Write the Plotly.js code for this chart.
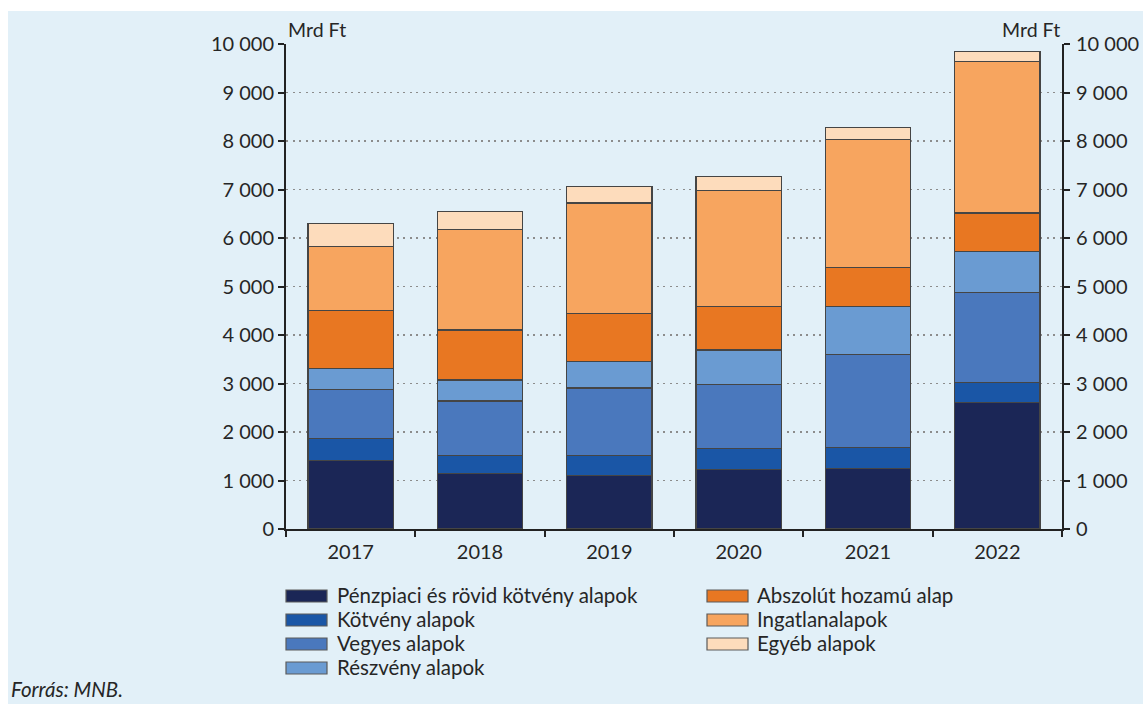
<!DOCTYPE html>
<html>
<head>
<meta charset="utf-8">
<script src="https://cdn.plot.ly/plotly-3.0.1.min.js"></script>
<style>
  html, body { margin: 0; padding: 0; background: #ffffff; width: 1143px; height: 704px; overflow: hidden; }
  #chart { position: absolute; left: 8px; top: 11px; width: 1135px; height: 693px; }
</style>
</head>
<body>
<div id="chart"></div>
<script>
const years = ["2017", "2018", "2019", "2020", "2021", "2022"];

const seriesNames = [
  "Pénzpiaci és rövid kötvény alapok",
  "Kötvény alapok",
  "Vegyes alapok",
  "Részvény alapok",
  "Abszolút hozamú alap",
  "Ingatlanalapok",
  "Egyéb alapok"
];

// Mrd Ft
const penzpiaci = [1420, 1145, 1111, 1221, 1255, 2607];
const kotveny   = [446, 378, 412, 439, 432, 411];
const vegyes    = [1008, 1118, 1385, 1324, 1914, 1865];
const reszveny  = [439, 432, 542, 706, 981, 837];
const abszolut  = [1193, 1029, 988, 892, 816, 796];
const ingatlan  = [1324, 2071, 2284, 2400, 2641, 3120];
const egyeb     = [473, 377, 342, 288, 239, 206];

const tickVals = [0, 1000, 2000, 3000, 4000, 5000, 6000, 7000, 8000, 9000, 10000];
const tickLabels = ["0", "1 000", "2 000", "3 000", "4 000", "5 000", "6 000", "7 000", "8 000", "9 000", "10 000"];

const colors = ["#1b2656", "#1a56a6", "#4a78bd", "#6a9bd2", "#e87722", "#f7a55f", "#fddcbc"];
const seriesValues = [penzpiaci, kotveny, vegyes, reszveny, abszolut, ingatlan, egyeb];

const FONT = "Lato, 'Open Sans', sans-serif";
const TXT = "#262626";

// page-pixel -> paper helpers (plot area: x 286..1062, y 44..529 on the page)
const PX0 = 286, PW = 776, PY0 = 529, PH = 485;
const px = x => (x - PX0) / PW;
const py = y => (PY0 - y) / PH;

const traces = seriesValues.map((vals, i) => ({
  type: "bar",
  name: seriesNames[i],
  x: years,
  y: vals,
  marker: { color: colors[i], line: { color: "#454545", width: 1.2 } },
  showlegend: false,
  hoverinfo: "x+y+name"
}));

// invisible trace so the right axis is drawn
traces.push({
  type: "scatter", x: [years[0]], y: [0], yaxis: "y2", mode: "markers",
  marker: { opacity: 0 }, showlegend: false, hoverinfo: "skip"
});

// manual two-column legend (column-major like the reference)
const legendCols = [
  { symX: 286, txtX: 335 },
  { symX: 707, txtX: 755 }
];
const rowY = [596, 620, 644, 668];
const shapes = [];
const annotations = [];
seriesNames.forEach((name, i) => {
  const col = i < 4 ? legendCols[0] : legendCols[1];
  const row = i < 4 ? i : i - 4;
  const cy = rowY[row];
  shapes.push({
    type: "rect", xref: "paper", yref: "paper",
    x0: px(col.symX), x1: px(col.symX + 41),
    y0: py(cy + 6), y1: py(cy - 6),
    fillcolor: colors[i], line: { color: "#5a5a5a", width: 1.2 }
  });
  annotations.push({
    xref: "paper", yref: "paper", x: px(col.txtX), y: py(cy - 1),
    xanchor: "left", yanchor: "middle", showarrow: false,
    text: name, font: { family: FONT, size: 20.5, color: TXT }
  });
});

annotations.push(
  { xref: "paper", yref: "paper", x: 0, y: 1, xanchor: "left", yanchor: "bottom", yshift: 1,
    text: "Mrd Ft", showarrow: false, font: { family: FONT, size: 19.5, color: TXT } },
  { xref: "paper", yref: "paper", x: 1, y: 1, xanchor: "right", yanchor: "bottom", yshift: 1,
    text: "Mrd Ft", showarrow: false, font: { family: FONT, size: 19.5, color: TXT } },
  { xref: "paper", yref: "paper", x: px(9), y: py(703), xanchor: "left", yanchor: "bottom",
    text: "<i>Forrás: MNB.</i>", showarrow: false, font: { family: FONT, size: 20.5, color: TXT } }
);

const axisCommon = {
  showline: true,
  linecolor: "#222",
  linewidth: 2,
  ticks: "outside",
  ticklen: 6,
  tickwidth: 2,
  tickcolor: "#222",
  zeroline: false,
  fixedrange: true,
  tickfont: { family: FONT, size: 20, color: TXT }
};

const layout = {
  width: 1135,
  height: 693,
  paper_bgcolor: "#e2f0f8",
  plot_bgcolor: "#e2f0f8",
  margin: { l: 278, r: 81, t: 33, b: 175 },
  barmode: "stack",
  bargap: 0.34,
  font: { family: FONT, size: 20, color: TXT },
  showlegend: false,
  xaxis: Object.assign({}, axisCommon, {
    type: "category",
    tickson: "boundaries",
    showgrid: false,
    ticklabelstandoff: 4
  }),
  yaxis: Object.assign({}, axisCommon, {
    range: [0, 10000],
    tickvals: tickVals,
    ticktext: tickLabels,
    showgrid: true,
    gridcolor: "#8c8c8c",
    gridwidth: 1.5,
    griddash: "2px,4.5px"
  }),
  yaxis2: Object.assign({}, axisCommon, {
    overlaying: "y",
    side: "right",
    range: [0, 10000],
    tickvals: tickVals,
    ticktext: tickLabels,
    showgrid: false,
    ticklabelstandoff: 2
  }),
  shapes: shapes,
  annotations: annotations
};

Plotly.newPlot("chart", traces, layout, { displayModeBar: false, staticPlot: true });
</script>
</body>
</html>
